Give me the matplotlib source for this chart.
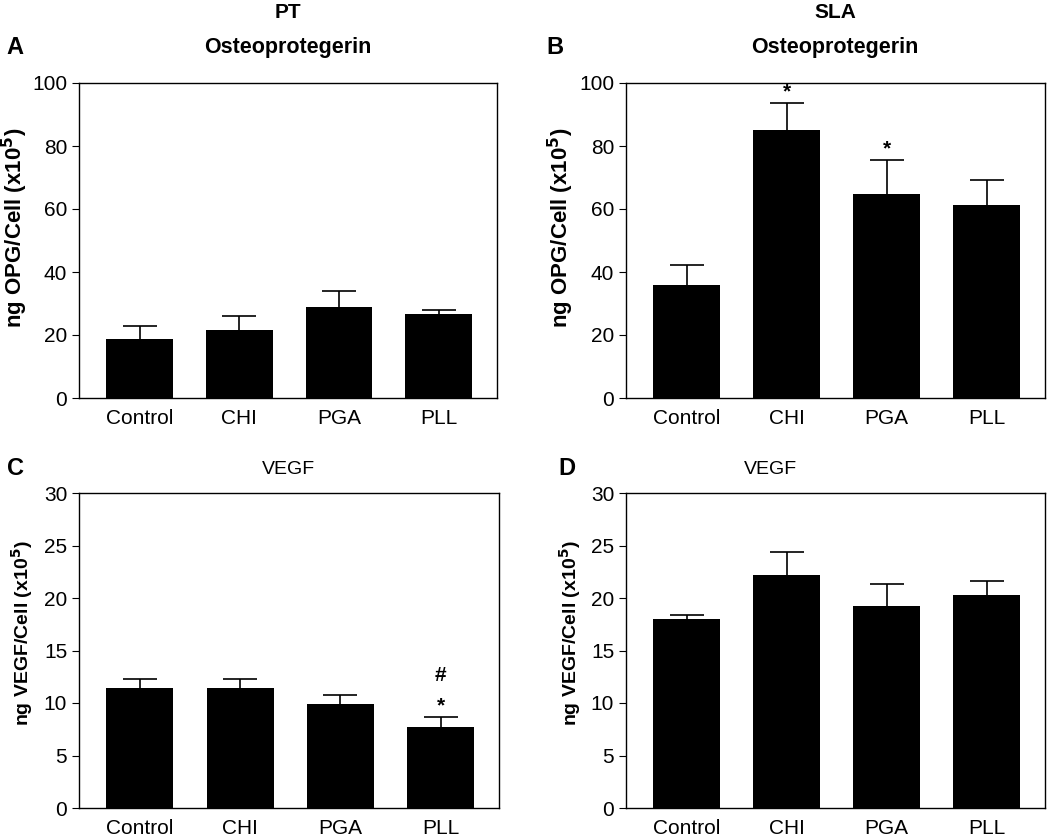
import matplotlib.pyplot as plt
import numpy as np

plt.rcParams['font.family'] = ['Liberation Sans', 'DejaVu Sans']

groups = ["Control", "CHI", "PGA", "PLL"]

# panel A: PT osteoprotegerin
opg_pt = [18.6, 21.5, 28.9, 26.8]
opg_pt_err = [4.2, 4.6, 5.2, 1.1]
# panel B: SLA osteoprotegerin
opg_sla = [36.0, 85.0, 64.8, 61.3]
opg_sla_err = [6.3, 8.6, 10.8, 7.9]
opg_sla_sig = ["", "*", "*", ""]
# panel C: PT VEGF
vegf_pt = [11.45, 11.45, 9.95, 7.75]
vegf_pt_err = [0.8, 0.8, 0.85, 0.95]
vegf_pt_sig = ["", "", "", "*\n#"]
# panel D: SLA VEGF
vegf_sla = [18.0, 22.2, 19.2, 20.3]
vegf_sla_err = [0.4, 2.2, 2.1, 1.3]

W, H = 1050, 836
fig = plt.figure(figsize=(W / 100, H / 100), dpi=100)


def box(l, t, r, b):
    return [l / W, 1 - b / H, (r - l) / W, (b - t) / H]


def panel(rect, vals, errs, ymax, step, ylabel, lab_size, lab_xy, sig=None):
    ax = fig.add_axes(rect)
    x = np.arange(len(groups))
    ax.bar(x, vals, width=0.67, color="black", zorder=2)
    # symmetric bars drawn under the columns, so only the upper half shows
    ax.errorbar(x, vals, yerr=errs, fmt="none", ecolor="black",
                elinewidth=1.2, capsize=12, capthick=1.2, zorder=1)
    if sig:
        for xi, v, e, s in zip(x, vals, errs, sig):
            for k, ch in enumerate(s.split("\n") if s else []):
                ax.annotate(ch, (xi, v + e), xytext=(0, 1 + 22 * k),
                            textcoords="offset points", ha="center", va="bottom",
                            fontsize=15, fontweight="bold")
    ax.set_xlim(-0.607, 3.583)
    ax.set_ylim(0, ymax)
    ax.set_yticks(np.arange(0, ymax + 1, step))
    ax.set_xticks(x)
    ax.set_xticklabels(groups)
    ax.tick_params(axis="x", length=0, labelsize=15, pad=8)
    ax.tick_params(axis="y", direction="out", length=5, labelsize=15)
    for sp in ax.spines.values():
        sp.set_linewidth(1.0)
    ax.set_ylabel(ylabel, fontsize=lab_size, fontweight="bold")
    ax.yaxis.set_label_coords(*lab_xy)
    return ax


opg_lab = r"ng OPG/Cell (x10$^\mathbf{5}$)"
vegf_lab = r"ng VEGF/Cell (x10$^\mathbf{5}$)"
axA = panel(box(79, 83, 497, 398), opg_pt, opg_pt_err, 100, 20,
            opg_lab, 16, (-0.118, 0.54))
axB = panel(box(626, 83, 1045, 398), opg_sla, opg_sla_err, 100, 20,
            opg_lab, 16, (-0.12, 0.54), opg_sla_sig)
axC = panel(box(79, 493, 499, 808), vegf_pt, vegf_pt_err, 30, 5,
            vegf_lab, 14, (-0.104, 0.555), vegf_pt_sig)
axD = panel(box(626, 493, 1045, 808), vegf_sla, vegf_sla_err, 30, 5,
            vegf_lab, 14, (-0.102, 0.555))

# headings
fig.text(288 / W, 1 - 13 / H, "PT", ha="center", va="center", fontsize=15, fontweight="bold")
fig.text(288 / W, 1 - 47 / H, "Osteoprotegerin", ha="center", va="center", fontsize=15.5, fontweight="bold")
fig.text(835 / W, 1 - 13 / H, "SLA", ha="center", va="center", fontsize=15, fontweight="bold")
fig.text(835 / W, 1 - 47 / H, "Osteoprotegerin", ha="center", va="center", fontsize=15.5, fontweight="bold")
fig.text(288 / W, 1 - 470 / H, "VEGF", ha="center", va="center", fontsize=14)
fig.text(770 / W, 1 - 470 / H, "VEGF", ha="center", va="center", fontsize=14)

for lab, (px, py) in zip("ABCD", [(15, 47), (555, 47), (15, 469), (567, 469)]):
    fig.text(px / W, 1 - py / H, lab, ha="center", va="center", fontsize=17, fontweight="bold")

fig.savefig("out.png", dpi=100)
